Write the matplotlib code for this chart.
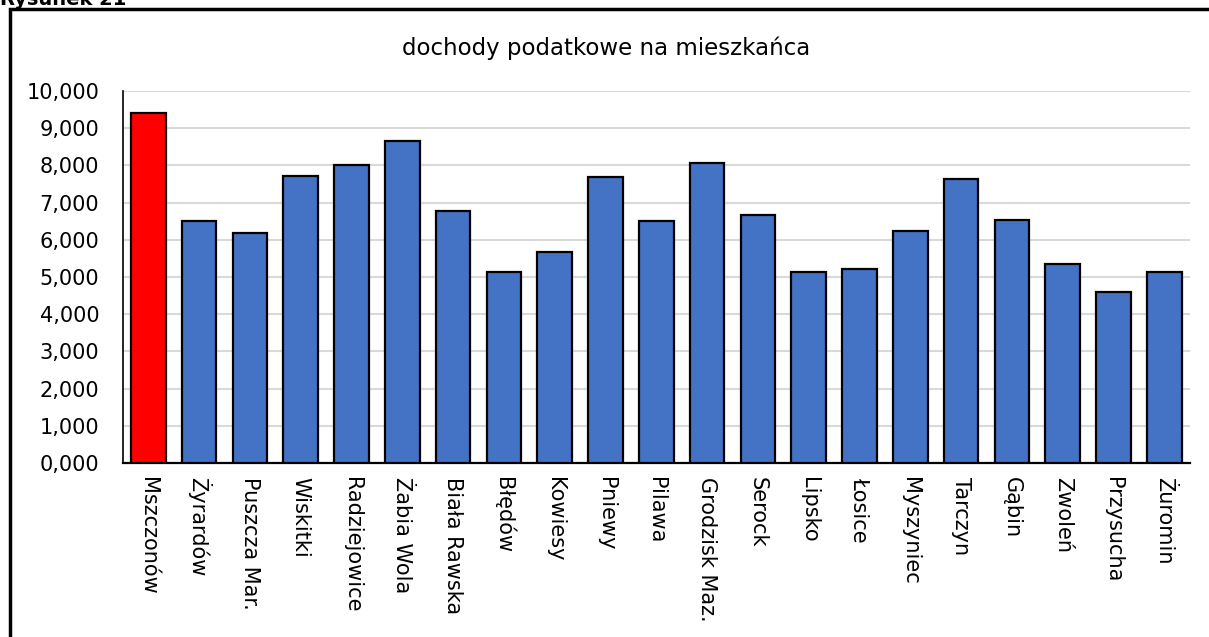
import matplotlib.pyplot as plt
from matplotlib.patches import Rectangle
from matplotlib.ticker import FuncFormatter

# dochody podatkowe na mieszkańca (tys. zł)
gminy = ["Mszczonów", "Żyrardów", "Puszcza Mar.", "Wiskitki", "Radziejowice",
         "Żabia Wola", "Biała Rawska", "Błędów", "Kowiesy", "Pniewy", "Pilawa",
         "Grodzisk Maz.", "Serock", "Lipsko", "Łosice", "Myszyniec", "Tarczyn",
         "Gąbin", "Zwoleń", "Przysucha", "Żuromin"]
dochody = [9.40, 6.52, 6.19, 7.72, 8.00, 8.67, 6.77, 5.14, 5.67, 7.69, 6.52,
           8.08, 6.67, 5.13, 5.22, 6.25, 7.64, 6.54, 5.36, 4.59, 5.15]
yticks = [0, 1, 2, 3, 4, 5, 6, 7, 8, 9, 10]

plt.rcParams['font.family'] = ['DejaVu Sans']

fig = plt.figure(figsize=(12.09, 6.37), dpi=100)
ax = fig.add_axes([0.1017, 0.273, 0.8823, 0.584])

colors = ['#FF0000'] + ['#4472C4'] * (len(gminy) - 1)
x = range(len(gminy))
ax.bar(x, dochody, width=0.68, color=colors, edgecolor='black', linewidth=1.6, zorder=3)

ax.set_xlim(-0.5, len(gminy) - 0.5)
ax.set_ylim(0, 10)
ax.set_yticks(yticks)
ax.yaxis.set_major_formatter(FuncFormatter(lambda v, p: f"{v:.3f}".replace('.', ',')))
ax.set_xticks(list(x))
ax.set_xticklabels(gminy, rotation=270, ha='center', va='top')
ax.tick_params(axis='both', length=0, labelsize=15, colors='black')
ax.tick_params(axis='x', pad=10)
ax.tick_params(axis='y', pad=17)

ax.grid(axis='y', color='#d9d9d9', linewidth=1.5, zorder=0)
for s in ['top', 'right']:
    ax.spines[s].set_visible(False)
ax.spines['left'].set_linewidth(1.2)
ax.spines['bottom'].set_linewidth(1.6)

fig.text(0.501, 1 - 48 / 637, "dochody podatkowe na mieszkańca", fontsize=16.5,
         ha='center', va='center')

# outer frame, cut by the right and bottom edges
fig.patches.append(Rectangle((10 / 1209, -0.1), 1.2, 1.1 - 9 / 637,
                             transform=fig.transFigure, fill=False,
                             edgecolor='black', linewidth=2.5, clip_on=False))
fig.text(0.0, 1 - 5 / 637, "Rysunek 21", fontsize=14, fontweight='bold',
         ha='left', va='baseline')

fig.savefig("out.png", dpi=100)
